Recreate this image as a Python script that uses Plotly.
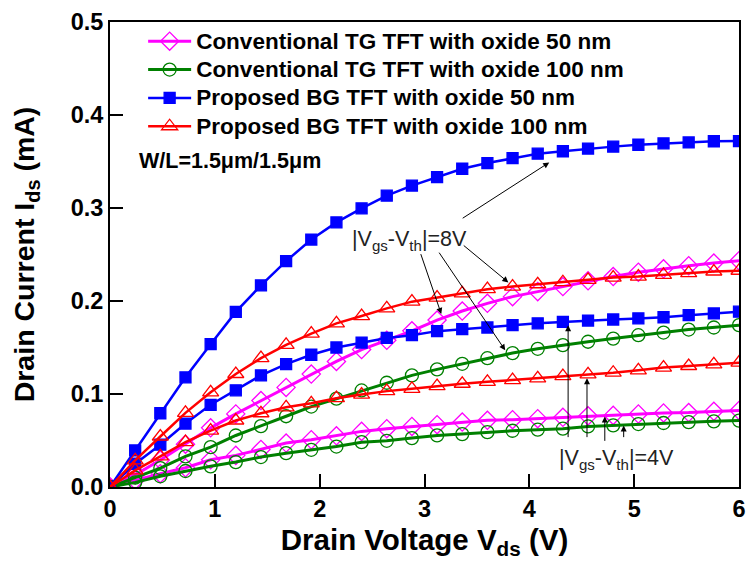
import plotly.graph_objects as go

# ---- data ----
vds = [0, 0.24, 0.48, 0.72, 0.96, 1.2, 1.44, 1.68, 1.92, 2.16, 2.4, 2.64, 2.88,
       3.12, 3.36, 3.6, 3.84, 4.08, 4.32, 4.56, 4.8, 5.04, 5.28, 5.52, 5.76, 6.0]

tg50_8 = [0, 0.013, 0.029, 0.046, 0.0636, 0.0786, 0.0929, 0.1071, 0.1214, 0.1350,
          0.1478, 0.1578, 0.1679, 0.1795, 0.1892, 0.1975, 0.2047, 0.2101, 0.2155,
          0.2217, 0.2263, 0.2310, 0.2346, 0.2379, 0.2408, 0.2433]
tg50_4 = [0, 0.0072, 0.0143, 0.0207, 0.0293, 0.0340, 0.0404, 0.0472, 0.0508, 0.0550,
          0.0598, 0.0627, 0.0651, 0.0670, 0.0698, 0.0717, 0.0724, 0.0735, 0.0749,
          0.0765, 0.0770, 0.0785, 0.0796, 0.0800, 0.0814, 0.0822]
tg100_8 = [0, 0.010, 0.0204, 0.0329, 0.0429, 0.0554, 0.0654, 0.0761, 0.0865, 0.0950,
           0.1038, 0.1121, 0.1200, 0.1265, 0.1325, 0.1385, 0.1440, 0.1486, 0.1526,
           0.1562, 0.1596, 0.1632, 0.1661, 0.1693, 0.1715, 0.1740]
tg100_4 = [0, 0.0050, 0.0115, 0.0172, 0.0222, 0.0268, 0.0322, 0.0364, 0.0400, 0.0435,
           0.0482, 0.0497, 0.0526, 0.0555, 0.0569, 0.0590, 0.0605, 0.0616, 0.0627,
           0.0651, 0.0663, 0.0677, 0.0688, 0.0698, 0.0706, 0.0714]
bg50_8 = [0, 0.0393, 0.0793, 0.1179, 0.1536, 0.1883, 0.2168, 0.2429, 0.2661, 0.2845,
          0.2996, 0.3133, 0.3241, 0.3331, 0.3422, 0.3483, 0.3537, 0.3584, 0.3610,
          0.3639, 0.3660, 0.3680, 0.3695, 0.3705, 0.3718, 0.3720]
bg50_4 = [0, 0.025, 0.0455, 0.0682, 0.0884, 0.104, 0.120, 0.1322, 0.1422, 0.1500,
          0.1553, 0.1603, 0.1632, 0.1676, 0.1697, 0.1715, 0.1740, 0.1760, 0.1776,
          0.1790, 0.1801, 0.1813, 0.1825, 0.1848, 0.1866, 0.1885]
bg100_8 = [0, 0.0286, 0.0543, 0.0797, 0.1018, 0.1215, 0.1386, 0.1529, 0.1650, 0.1760,
           0.1838, 0.1921, 0.1993, 0.2036, 0.2083, 0.2127, 0.2155, 0.2180, 0.2202,
           0.2227, 0.2252, 0.2263, 0.2281, 0.2299, 0.2317, 0.2325]
bg100_4 = [0, 0.0179, 0.0329, 0.0482, 0.0607, 0.0715, 0.0793, 0.0857, 0.0900, 0.0955,
           0.0994, 0.1031, 0.1056, 0.1084, 0.1110, 0.1131, 0.1150, 0.1168, 0.1193,
           0.1211, 0.1229, 0.1255, 0.1284, 0.1301, 0.1319, 0.1337]

legend_names = ["Conventional TG TFT with oxide 50 nm",
                "Conventional TG TFT with oxide 100 nm",
                "Proposed BG TFT with oxide 50 nm",
                "Proposed BG TFT with oxide 100 nm"]

FONT = "Liberation Sans, Arial, sans-serif"

series = [
    (legend_names[0], [tg50_8, tg50_4], "#FF00FF", "diamond-open", 14, 3),
    (legend_names[1], [tg100_8, tg100_4], "#008000", "circle-open", 13, 3),
    (legend_names[2], [bg50_8, bg50_4], "#0000FF", "square", 11, 2.5),
    (legend_names[3], [bg100_8, bg100_4], "#FF0000", "triangle-up-open", 14, 2.5),
]

fig = go.Figure()
for name, ys, color, sym, msize, lw in series:
    for k, y in enumerate(ys):
        fig.add_trace(go.Scatter(
            x=vds, y=y, mode="lines+markers",
            name='<span style="font-size:22.5px">' + name + '</span>',
            legendgroup=name, showlegend=(k == 0),
            line=dict(color=color, width=lw),
            marker=dict(symbol=sym, size=msize, color=color,
                        line=dict(color=color, width=1.3)),
        ))

arrow_kw = dict(showarrow=True, arrowhead=2, arrowsize=1.2, arrowwidth=1,
                arrowcolor="black", axref="x", ayref="y", xref="x", yref="y", text="")
# |Vgs-Vth|=8V arrows (head, tail)
arrows = [
    ((4.19, 0.349), (3.35, 0.288)),
    ((3.80, 0.220), (3.36, 0.261)),
    ((3.16, 0.186), (2.96, 0.252)),
    ((3.77, 0.147), (3.13, 0.2536)),
    # |Vgs-Vth|=4V arrows
    ((4.37, 0.174), (4.37, 0.052)),
    ((4.55, 0.117), (4.55, 0.052)),
    ((4.72, 0.0757), (4.72, 0.048)),
    ((4.90, 0.066), (4.90, 0.052)),
]
for (hx, hy), (tx, ty) in arrows:
    fig.add_annotation(x=hx, y=hy, ax=tx, ay=ty, **arrow_kw)

fig.add_annotation(x=2.86, y=0.265, xref="x", yref="y", showarrow=False,
                   text="|V<sub>gs</sub>-V<sub>th</sub>|=8V",
                   font=dict(family=FONT, size=21.5, color="#222222"))
fig.add_annotation(x=4.83, y=0.030, xref="x", yref="y", showarrow=False,
                   text="|V<sub>gs</sub>-V<sub>th</sub>|=4V",
                   font=dict(family=FONT, size=21.5, color="#222222"))
fig.add_annotation(x=0.255, y=0.351, xref="x", yref="y", showarrow=False,
                   xanchor="left", yanchor="middle",
                   text="W/L=1.5μm/1.5μm",
                   font=dict(family=FONT, size=21.5, color="black", weight="bold"))

axis_common = dict(showline=True, linecolor="black", linewidth=2, mirror=True,
                   ticks="inside", ticklen=13, tickwidth=2, tickcolor="black",
                   showgrid=False, zeroline=False,
                   tickfont=dict(family=FONT, size=23.5, color="black", weight="bold"))

fig.update_xaxes(range=[0, 6], dtick=1, tick0=0,
                 title=dict(text="Drain Voltage V<sub>ds</sub> (V)",
                            font=dict(family=FONT, size=29.5, color="black", weight="bold"),
                            standoff=8),
                 **axis_common)
fig.update_yaxes(range=[0, 0.5], dtick=0.1, tick0=0, tickformat=".1f",
                 title=dict(text="Drain Current I<sub>ds</sub> (mA)",
                            font=dict(family=FONT, size=28.5, color="black", weight="bold"),
                            standoff=28),
                 **axis_common)

fig.update_layout(
    width=755, height=571,
    margin=dict(l=110, r=9, t=20, b=84),
    paper_bgcolor="white", plot_bgcolor="white",
    legend=dict(x=(143.5 - 110) / 636, y=1.0, xanchor="left", yanchor="top",
                bgcolor="rgba(0,0,0,0)", tracegroupgap=0, itemwidth=43,
                font=dict(family=FONT, size=19.5, color="black", weight="bold")),
)

fig.write_html("out.html")
